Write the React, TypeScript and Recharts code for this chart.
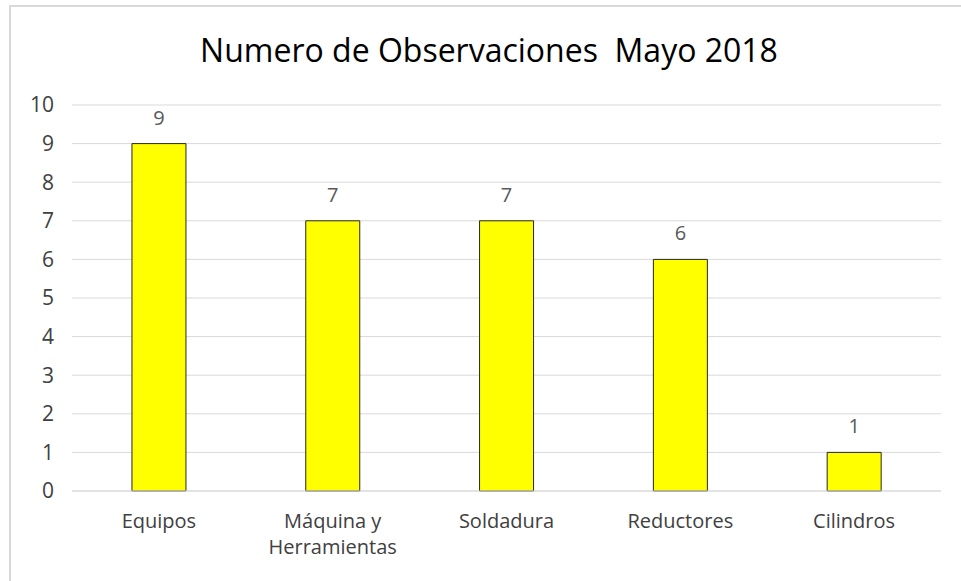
import React from 'react';
import { BarChart, Bar, XAxis, YAxis, CartesianGrid, LabelList, Text } from 'recharts';

const categories = ['Equipos', 'Máquina y Herramientas', 'Soldadura', 'Reductores', 'Cilindros'];
const observaciones = [9, 7, 7, 6, 1];
const yTicks = [0, 1, 2, 3, 4, 5, 6, 7, 8, 9, 10];

const data = categories.map((name, i) => ({ name, value: observaciones[i] }));

const FONT = '"Open Sans", "Liberation Sans", sans-serif';

const CategoryTick = ({ x, y, payload }: any) => (
    <Text
        x={x}
        y={y + 15}
        width={150}
        textAnchor="middle"
        verticalAnchor="start"
        lineHeight={26}
        fontSize={20}
        fontFamily={FONT}
        fill="#404040"
    >
        {payload.value}
    </Text>
);

const App: React.FC = () => {
    return (
        <div style={{ position: 'absolute', left: 0, top: 0, width: 961, height: 581, overflow: 'hidden', background: '#fff' }}>
            <div style={{ position: 'absolute', left: 9, top: 5, width: 980, height: 600, border: '2px solid #d9d9d9', boxSizing: 'border-box' }} />
            <div style={{ position: 'absolute', left: 0, top: 34, width: 978, textAlign: 'center', fontFamily: FONT, fontSize: 32, lineHeight: '32px', color: '#000', whiteSpace: 'pre' }}>
                {'Numero de Observaciones  Mayo 2018'}
            </div>
            <div style={{ position: 'absolute', left: 0, top: 0 }}>
                <BarChart
                    width={961}
                    height={581}
                    data={data}
                    margin={{ top: 105, right: 20, bottom: 30, left: 20 }}
                    barCategoryGap="34.5%"
                >
                    <CartesianGrid vertical={false} stroke="#d9d9d9" />
                    <XAxis
                        dataKey="name"
                        axisLine={{ stroke: '#d9d9d9' }}
                        tickLine={false}
                        height={60}
                        interval={0}
                        tick={<CategoryTick />}
                    />
                    <YAxis
                        width={52}
                        domain={[0, 10]}
                        ticks={yTicks}
                        axisLine={false}
                        tickLine={false}
                        tickMargin={12}
                        tick={{ fontSize: 21, fontFamily: FONT, fill: '#404040' }}
                    />
                    <Bar dataKey="value" fill="#ffff00" stroke="#262626" strokeWidth={1} isAnimationActive={false}>
                        <LabelList dataKey="value" position="top" offset={19} fontSize={20} fontFamily={FONT} fill="#595959" />
                    </Bar>
                </BarChart>
            </div>
        </div>
    );
};

export default App;
